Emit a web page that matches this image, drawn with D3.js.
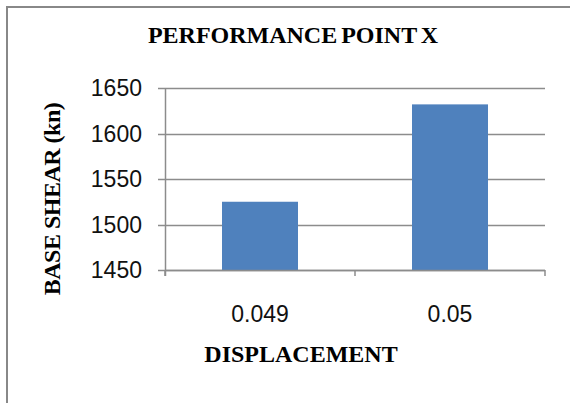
<!DOCTYPE html>
<html>
<head>
<meta charset="utf-8">
<script src="https://cdn.jsdelivr.net/npm/d3@7"></script>
<style>
  body { margin: 0; background: #fff; }
  svg { display: block; }
</style>
</head>
<body>
<div id="chart"></div>
<script>
// values
const categories = ["0.049", "0.05"];
const baseShear = [1525, 1632];
const yTicks = [1450, 1500, 1550, 1600, 1650];

const width = 570, height = 403;
const margin = { top: 88, right: 25, bottom: 133, left: 165 };
const plotW = width - margin.left - margin.right;
const plotH = height - margin.top - margin.bottom;

const svg = d3.select("#chart").append("svg")
    .attr("width", width)
    .attr("height", height);

// outer chart frame (bottom and right run off the page)
svg.append("rect")
    .attr("x", 7).attr("y", 7)
    .attr("width", width + 20).attr("height", height + 20)
    .attr("fill", "none")
    .attr("stroke", "#888")
    .attr("stroke-width", 2);

const x = d3.scaleBand()
    .domain(categories)
    .range([0, plotW])
    .paddingInner(0.6)
    .paddingOuter(0.3);

const y = d3.scaleLinear()
    .domain([1450, 1650])
    .range([plotH, 0]);

const g = svg.append("g")
    .attr("transform", `translate(${margin.left},${margin.top})`);

// gridlines, with the little tick stubs left of the axis
g.append("g")
    .selectAll("line")
    .data(yTicks)
    .join("line")
    .attr("x1", -7).attr("x2", plotW)
    .attr("y1", d => Math.round(y(d)) + 0.5)
    .attr("y2", d => Math.round(y(d)) + 0.5)
    .attr("stroke", "#8c8c8c")
    .attr("stroke-width", 1.5);

g.selectAll("rect.bar")
    .data(baseShear)
    .join("rect")
    .attr("class", "bar")
    .attr("x", (d, i) => x(categories[i]))
    .attr("width", x.bandwidth())
    .attr("y", d => y(d))
    .attr("height", d => plotH - y(d))
    .attr("fill", "#4f81bd");

// y axis line
g.append("line")
    .attr("x1", 0.5).attr("x2", 0.5)
    .attr("y1", 0).attr("y2", plotH + 6)
    .attr("stroke", "#8c8c8c")
    .attr("stroke-width", 1.5);

// x axis line + category boundary ticks
const step = plotW / categories.length;
g.append("line")
    .attr("x1", 0).attr("x2", plotW)
    .attr("y1", plotH + 0.5).attr("y2", plotH + 0.5)
    .attr("stroke", "#8c8c8c")
    .attr("stroke-width", 1.5);
g.append("g")
    .selectAll("line")
    .data(d3.range(categories.length + 1))
    .join("line")
    .attr("x1", i => i * step).attr("x2", i => i * step)
    .attr("y1", plotH).attr("y2", plotH + 6)
    .attr("stroke", "#8c8c8c")
    .attr("stroke-width", 1.5);

// tick labels
g.append("g")
    .selectAll("text")
    .data(yTicks)
    .join("text")
    .attr("x", -23)
    .attr("y", d => y(d) + 8)
    .attr("text-anchor", "end")
    .style("font-family", "Liberation Sans, Arial, sans-serif")
    .style("font-size", "23px")
    .attr("fill", "#111")
    .text(d => d);

g.append("g")
    .selectAll("text")
    .data(categories)
    .join("text")
    .attr("x", d => x(d) + x.bandwidth() / 2)
    .attr("y", plotH + 52)
    .attr("text-anchor", "middle")
    .style("font-family", "Liberation Sans, Arial, sans-serif")
    .style("font-size", "23px")
    .attr("fill", "#111")
    .text(d => d);

// titles
const serif = "Liberation Serif, Times New Roman, serif";
svg.append("text")
    .attr("x", 293).attr("y", 43)
    .attr("text-anchor", "middle")
    .style("font-family", serif)
    .style("font-weight", "bold")
    .style("font-size", "24px")
    .style("word-spacing", "-2px")
    .text("PERFORMANCE POINT X");

svg.append("text")
    .attr("x", 301).attr("y", 362)
    .attr("text-anchor", "middle")
    .style("font-family", serif)
    .style("font-weight", "bold")
    .style("font-size", "24px")
    .text("DISPLACEMENT");

svg.append("text")
    .attr("transform", "translate(60,199) rotate(-90)")
    .attr("text-anchor", "middle")
    .style("font-family", serif)
    .style("font-weight", "bold")
    .style("font-size", "24px")
    .style("letter-spacing", "-0.5px")
    .text("BASE SHEAR (kn)");
</script>
</body>
</html>
